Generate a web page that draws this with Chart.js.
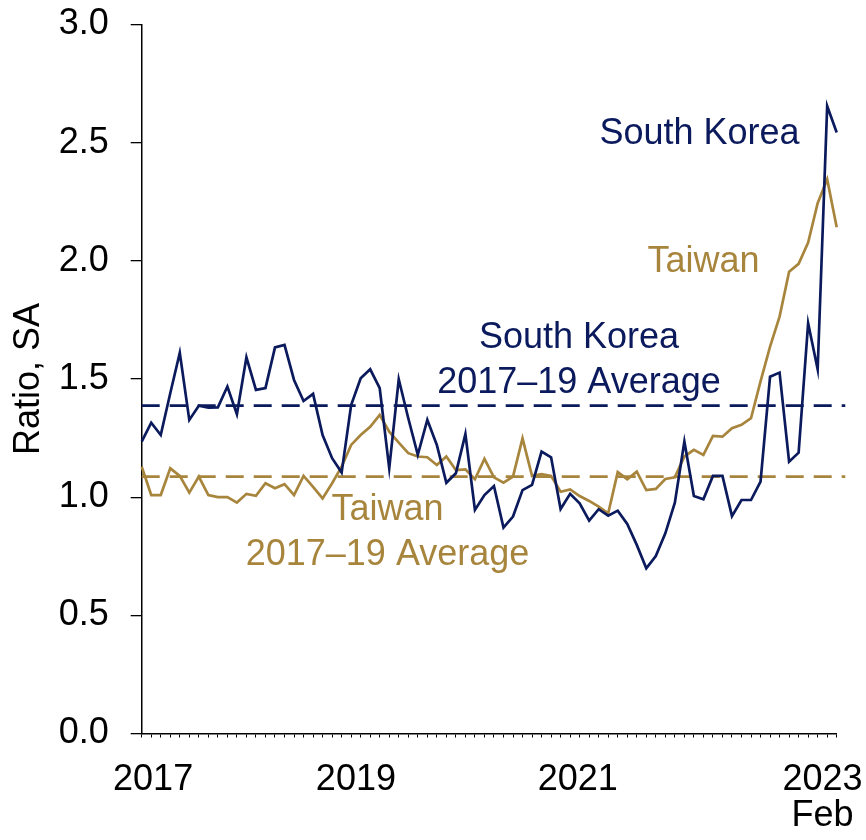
<!DOCTYPE html>
<html><head><meta charset="utf-8">
<script src="https://cdn.jsdelivr.net/npm/chart.js@4/dist/chart.umd.min.js"></script>
<style>html,body{margin:0;padding:0;background:#fff}canvas{display:block}</style>
</head><body>
<canvas id="c" width="866" height="840"></canvas>
<script>
// Categories: monthly, Jan 2017 .. Feb 2023
const monthNames = ['Jan','Feb','Mar','Apr','May','Jun','Jul','Aug','Sep','Oct','Nov','Dec'];
const months = [];
for (let yr = 2017; yr <= 2023; yr++) {
  for (let m = 0; m < 12; m++) {
    if (yr === 2023 && m > 1) break;
    months.push(monthNames[m] + ' ' + yr);
  }
}

const southKorea = [
  1.235, 1.315, 1.263, 1.44, 1.611, 1.327, 1.387, 1.379, 1.380, 1.468, 1.351, 1.592,
  1.454, 1.462, 1.634, 1.644, 1.496, 1.407, 1.437, 1.263, 1.165, 1.104, 1.390, 1.503,
  1.541, 1.461, 1.122, 1.499, 1.334, 1.179, 1.327, 1.221, 1.061, 1.101, 1.267, 0.946,
  1.009, 1.047, 0.871, 0.918, 1.030, 1.052, 1.193, 1.169, 0.950, 1.014, 0.974, 0.901,
  0.949, 0.922, 0.943, 0.887, 0.798, 0.699, 0.751, 0.847, 0.977, 1.235, 1.005, 0.991,
  1.090, 1.090, 0.920, 0.988, 0.988, 1.066, 1.510, 1.527, 1.150, 1.188, 1.736, 1.541,
  2.655, 2.543
];
const taiwan = [
  1.129, 1.009, 1.009, 1.122, 1.090, 1.019, 1.087, 1.009, 1.000, 1.000, 0.977, 1.014,
  1.006, 1.059, 1.038, 1.055, 1.009, 1.090, 1.044, 0.995, 1.059, 1.129, 1.221, 1.263,
  1.298, 1.348, 1.277, 1.231, 1.186, 1.172, 1.169, 1.136, 1.172, 1.115, 1.118, 1.076,
  1.162, 1.084, 1.061, 1.087, 1.249, 1.090, 1.097, 1.090, 1.023, 1.033, 1.005, 0.984,
  0.960, 0.932, 1.106, 1.076, 1.108, 1.030, 1.035, 1.077, 1.084, 1.172, 1.200, 1.179,
  1.259, 1.256, 1.292, 1.306, 1.334, 1.49, 1.637, 1.764, 1.954, 1.987, 2.077, 2.244,
  2.345, 2.142
];
const southKoreaAvg = 1.387;   // 2017–19 average
const taiwanAvg = 1.087;       // 2017–19 average

const yearTickLabels = ['2017', '2019', '2021', ['2023', 'Feb']];
const yTickValues = [0, 0.5, 1.0, 1.5, 2.0, 2.5, 3.0];

// ---- layout / style (kept out of the data) ----
const NAVY = '#0b1a5c';
const GOLD = '#a8853d';
const FONT = '"Liberation Sans", Arial, Helvetica, sans-serif';
const yearTickPos = [1.2, 22.5, 45.8, 71.5];   // month-index positions of the year labels
const avgLineEnd = 73.9;
const notes = [
  { text: 'South Korea', color: NAVY, x: 58.59, y: 2.537 },
  { text: 'Taiwan', color: GOLD, x: 59.0, y: 1.993 },
  { text: 'South Korea', color: NAVY, x: 45.93, y: 1.674 },
  { text: '2017\u201319 Average', color: NAVY, x: 45.93, y: 1.483 },
  { text: 'Taiwan', color: GOLD, x: 25.82, y: 0.946 },
  { text: '2017\u201319 Average', color: GOLD, x: 25.82, y: 0.755 }
];

Chart.defaults.font.family = FONT;
Chart.defaults.font.size = 36;
Chart.defaults.color = '#000';

const notePlugin = {
  id: 'notes',
  afterDatasetsDraw(chart) {
    const { ctx, scales } = chart;
    ctx.save();
    ctx.font = '36px ' + FONT;
    ctx.textAlign = 'center';
    ctx.textBaseline = 'middle';
    notes.forEach(n => {
      ctx.fillStyle = n.color;
      ctx.fillText(n.text, scales.x2.getPixelForValue(n.x), scales.y.getPixelForValue(n.y));
    });
    ctx.restore();
  }
};

function zeroPad(s) { s.paddingLeft = 0; s.paddingRight = 0; s.paddingTop = 0; s.paddingBottom = 0; }

new Chart(document.getElementById('c'), {
  type: 'line',
  data: {
    labels: months,
    datasets: [
      { label: 'South Korea', data: southKorea, borderColor: NAVY, borderWidth: 2.7,
        pointRadius: 0, tension: 0, fill: false, xAxisID: 'x', yAxisID: 'y' },
      { label: 'Taiwan', data: taiwan, borderColor: GOLD, borderWidth: 2.7,
        pointRadius: 0, tension: 0, fill: false, xAxisID: 'x', yAxisID: 'y' },
      { label: 'South Korea 2017–19 Average',
        data: [{ x: 0, y: southKoreaAvg }, { x: avgLineEnd, y: southKoreaAvg }],
        borderColor: NAVY, borderWidth: 2.8, borderDash: [18, 10], pointRadius: 0,
        fill: false, clip: false, xAxisID: 'x2', yAxisID: 'y' },
      { label: 'Taiwan 2017–19 Average',
        data: [{ x: 0, y: taiwanAvg }, { x: avgLineEnd, y: taiwanAvg }],
        borderColor: GOLD, borderWidth: 2.8, borderDash: [18, 10], pointRadius: 0,
        fill: false, clip: false, xAxisID: 'x2', yAxisID: 'y' }
    ]
  },
  options: {
    responsive: false,
    animation: false,
    devicePixelRatio: 1,
    layout: { padding: { top: 24.5, right: 29.3, bottom: 0, left: 0 } },
    plugins: { legend: { display: false }, tooltip: { enabled: false } },
    scales: {
      x: {
        type: 'category', position: 'bottom', weight: 0, offset: false,
        grid: { drawOnChartArea: false, drawTicks: true, tickLength: 4, color: '#000', lineWidth: 1 },
        border: { display: true, color: '#000', width: 1.5 },
        ticks: { display: false },
        afterFit: s => { s.height = 4; zeroPad(s); }
      },
      x2: {
        type: 'linear', position: 'bottom', weight: 1, min: 0, max: 73, bounds: 'data',
        grid: { display: false, drawTicks: false },
        border: { display: false },
        afterBuildTicks: s => { s.ticks = yearTickPos.map(v => ({ value: v })); },
        ticks: {
          autoSkip: false, maxRotation: 0, minRotation: 0, padding: 24.5,
          font: { size: 36, lineHeight: 1.0 }, color: '#000',
          callback: (v, i) => yearTickLabels[i]
        },
        afterFit: s => { s.height = 102.5; zeroPad(s); }
      },
      y: {
        type: 'linear', position: 'left', min: 0, max: 3,
        afterBuildTicks: s => { s.ticks = yTickValues.map(v => ({ value: v })); },
        ticks: { padding: 22, color: '#000', font: { size: 36 }, callback: v => Number(v).toFixed(1) },
        grid: { drawOnChartArea: false, drawTicks: true, tickLength: 11, color: '#000', lineWidth: 1.3 },
        border: { display: true, color: '#000', width: 1.5 },
        title: { display: true, text: 'Ratio, SA', color: '#000', font: { size: 36 }, padding: { top: 7.4, bottom: 0 } },
        afterFit: s => { s.width = 141.7; zeroPad(s); }
      }
    }
  },
  plugins: [notePlugin]
});
</script>
</body></html>
